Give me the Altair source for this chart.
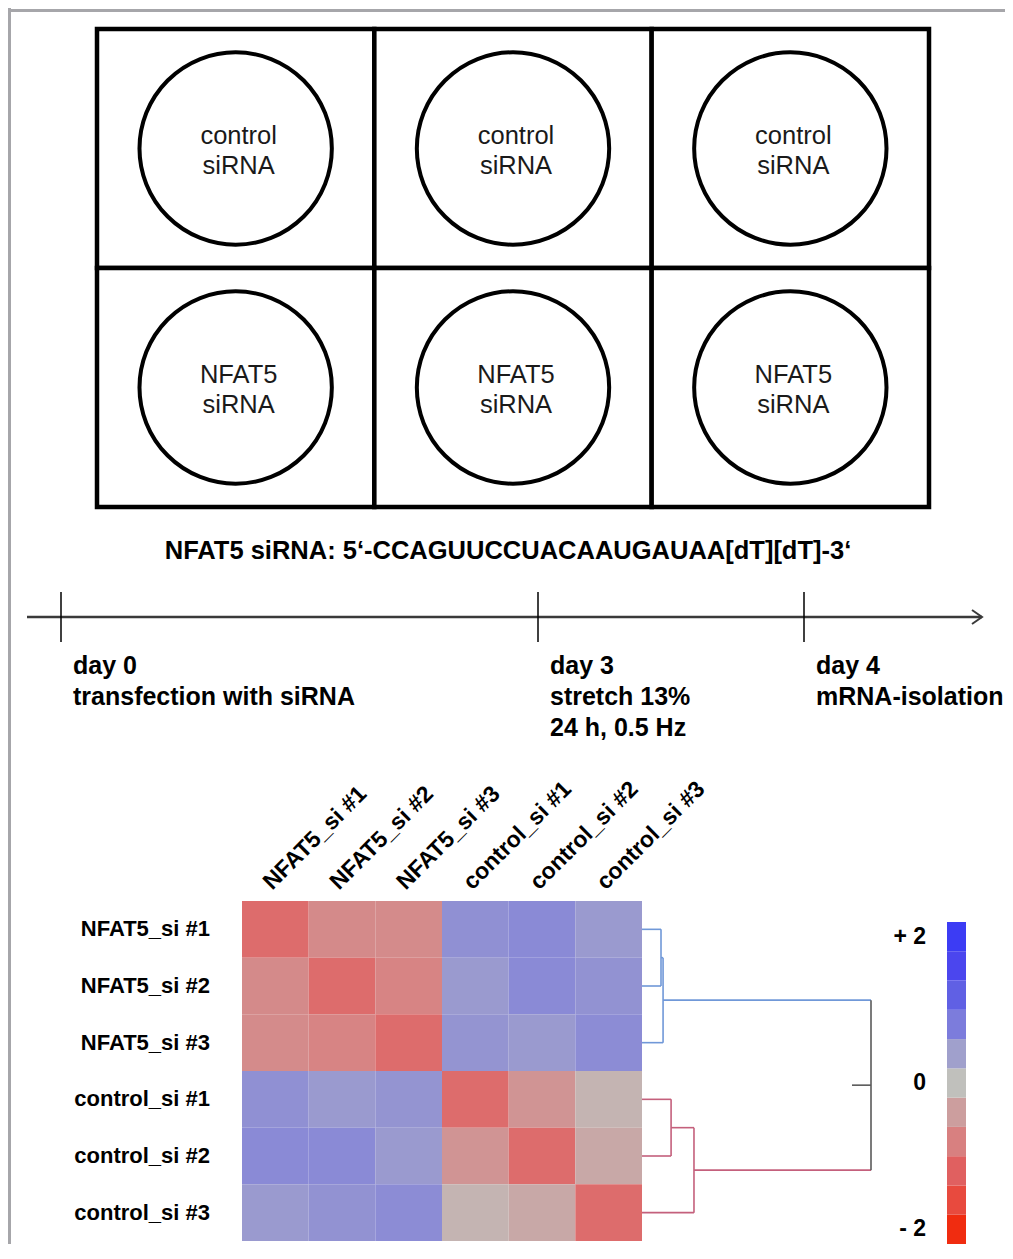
import altair as alt
import pandas as pd

FONT = "Liberation Sans"
BORDER = "#a6a6aa"

# ---------------- data ----------------
# culture plate layout (column, row, treatment)
plate_cols = [0, 1, 2, 0, 1, 2]
plate_rows = [0, 0, 0, 1, 1, 1]
plate_treatment = ["control", "control", "control", "NFAT5", "NFAT5", "NFAT5"]
plate_line2 = ["siRNA", "siRNA", "siRNA", "siRNA", "siRNA", "siRNA"]

sequence_label = "NFAT5 siRNA: 5\u2018-CCAGUUCCUACAAUGAUAA[dT][dT]-3\u2018"

# time line (days)
timeline_days = [0, 3, 4]
timeline_labels = [
    "day 0\ntransfection with siRNA",
    "day 3\nstretch 13%\n24 h, 0.5 Hz",
    "day 4\nmRNA-isolation",
]
timeline_start = -0.2
timeline_end = 4.7

# correlation heatmap
samples = ["NFAT5_si #1", "NFAT5_si #2", "NFAT5_si #3",
           "control_si #1", "control_si #2", "control_si #3"]
corr = [
    [-1.05, -0.67, -0.66, 0.58, 0.64, 0.47],
    [-0.67, -1.05, -0.75, 0.47, 0.64, 0.56],
    [-0.66, -0.75, -1.05, 0.53, 0.47, 0.62],
    [0.58, 0.47, 0.53, -1.05, -0.53, -0.14],
    [0.64, 0.64, 0.47, -0.53, -1.05, -0.28],
    [0.47, 0.56, 0.62, -0.14, -0.28, -1.05],
]

# colour key
legend_steps = [-2.0, -1.6, -1.2, -0.8, -0.4, 0.0, 0.4, 0.8, 1.2, 1.6, 2.0]
legend_colors = ["#f02c10", "#e84a3e", "#e06060", "#d88080", "#cc9e9e", "#c0c0bc",
                 "#a0a0cc", "#7c7cdc", "#6060e4", "#4b46ee", "#3c3cf4"]
legend_half_step = 0.2
legend_tick_values = [2, 0, -2]
legend_tick_labels = ["+ 2", "0", "- 2"]

# dendrogram (hierarchical clustering of the rows)
merge_left = ["NFAT5_si #1", "m1", "control_si #1", "m3", "m2"]
merge_right = ["NFAT5_si #2", "NFAT5_si #3", "control_si #2", "control_si #3", "m4"]
merge_height = [0.083, 0.092, 0.127, 0.227, 1.0]
merge_group = ["blue", "blue", "red", "red", "root"]
root_stub = 0.917
group_colors = {"blue": "#7098d8", "red": "#c4607c", "root": "#5a5a5a"}

# ---------------- helpers ----------------
one = pd.DataFrame({"v": [0]})


def left_border():
    return alt.Chart(one).mark_rect(color=BORDER).encode(
        x=alt.value(0), x2=alt.value(3), y=alt.value(0), y2=alt.value("height"))


def top_border():
    return alt.Chart(one).mark_rect(color=BORDER).encode(
        x=alt.value(0), x2=alt.value("width"), y=alt.value(1), y2=alt.value(4))


W = 997

# ---------------- row A: plate ----------------
plate_df = pd.DataFrame({"col": plate_cols, "row": plate_rows,
                         "treatment": plate_treatment, "line2": plate_line2})
pbase = alt.Chart(plate_df).transform_calculate(
    col2="datum.col + 1", row2="datum.row + 1",
    cx="datum.col + 0.5", cy="datum.row + 0.5")
pxs = alt.Scale(domain=[0, 3], range=[89, 921], nice=False, zero=False)
pys = alt.Scale(domain=[0, 2], range=[21, 499], nice=False, zero=False)

wells = pbase.mark_rect(fill="white", stroke="black", strokeWidth=4.5).encode(
    x=alt.X("col:Q", scale=pxs, axis=None), x2="col2:Q",
    y=alt.Y("row:Q", scale=pys, axis=None), y2="row2:Q")
circles = pbase.mark_point(shape="circle", size=37000, filled=False, stroke="black",
                           strokeWidth=4, opacity=1).encode(
    x=alt.X("cx:Q", scale=pxs, axis=None), y=alt.Y("cy:Q", scale=pys, axis=None))
txt1 = pbase.mark_text(font=FONT, fontSize=25.5, color="#1a1a1a", baseline="alphabetic",
                       dx=3, dy=-5).encode(
    x=alt.X("cx:Q", scale=pxs, axis=None), y=alt.Y("cy:Q", scale=pys, axis=None),
    text="treatment:N")
txt2 = pbase.mark_text(font=FONT, fontSize=25.5, color="#1a1a1a", baseline="alphabetic",
                       dx=3, dy=25).encode(
    x=alt.X("cx:Q", scale=pxs, axis=None), y=alt.Y("cy:Q", scale=pys, axis=None),
    text="line2:N")

row_a = alt.layer(top_border(), left_border(), wells, circles, txt1, txt2).properties(
    width=W, height=499,
    title=alt.TitleParams(sequence_label, orient="bottom", anchor="middle", font=FONT,
                          fontSize=25.5, fontWeight="bold", color="black",
                          baseline="top", offset=30, dx=1.5))

# ---------------- row B: time line ----------------
day_scale = alt.Scale(domain=[timeline_start, 0, 3, 4, timeline_end],
                      range=[19, 53, 530, 796, 974], nice=False, zero=False)
axis_df = pd.DataFrame({"start": [timeline_start], "end": [timeline_end]})
ev_df = pd.DataFrame({"day": timeline_days, "label": timeline_labels})

tl_line = alt.Chart(axis_df).mark_rule(color="#3a3a3a", strokeWidth=2.5).encode(
    x=alt.X("start:Q", scale=day_scale, axis=None), x2="end:Q", y=alt.value(110))
tl_arrow = alt.Chart(axis_df).mark_point(shape="M-1,-0.7L0,0L-1,0.7", size=400, filled=False,
                                         stroke="#3a3a3a", strokeWidth=2, opacity=1).encode(
    x=alt.X("end:Q", scale=day_scale, axis=None), y=alt.value(110))
tl_ticks = alt.Chart(ev_df).mark_rule(color="black", strokeWidth=1.5).encode(
    x=alt.X("day:Q", scale=day_scale, axis=None), y=alt.value(85), y2=alt.value(135))
tl_text = alt.Chart(ev_df).mark_text(align="left", baseline="top", dx=12, font=FONT,
                                     fontSize=25, fontWeight="bold", color="black",
                                     lineBreak="\n", lineHeight=31).encode(
    x=alt.X("day:Q", scale=day_scale, axis=None), y=alt.value(147), text="label:N")
row_b = alt.layer(left_border(), tl_line, tl_arrow, tl_ticks, tl_text).properties(
    width=W, height=394)

# ---------------- row C: heatmap, dendrogram, colour key ----------------
hm = pd.DataFrame([{"row": r, "col": c, "value": corr[i][j]}
                   for i, r in enumerate(samples) for j, c in enumerate(samples)])
color_scale = alt.Scale(domain=legend_steps, range=legend_colors, interpolate="rgb")
hxs = alt.Scale(range=[234, 634], paddingInner=0, paddingOuter=0)
hys = alt.Scale(range=[0, 340], paddingInner=0, paddingOuter=0)

heat_rect = alt.Chart(hm).mark_rect().encode(
    x=alt.X("col:N", sort=samples, scale=hxs,
            axis=alt.Axis(orient="top", title=None, ticks=False, tickSize=0, domain=False,
                          labelAngle=315, labelAlign="left", labelBaseline="alphabetic",
                          labelPadding=10.7, labelOffset=-3, labelFont=FONT,
                          labelFontSize=23, labelFontWeight="bold", labelColor="black",
                          labelLimit=400, labelOverlap=False)),
    y=alt.Y("row:N", sort=samples, scale=hys, axis=None),
    color=alt.Color("value:Q", scale=color_scale, legend=None),
)
row_lab_df = pd.DataFrame({"row": samples})
heat_rowlab = alt.Chart(row_lab_df).mark_text(align="right", baseline="middle", font=FONT,
                                              fontSize=22, fontWeight="bold",
                                              color="black").encode(
    x=alt.value(202), y=alt.Y("row:N", sort=samples, scale=hys, axis=None), text="row:N")
heat = alt.layer(heat_rect, heat_rowlab)

# dendrogram segments from the merge list
node_y = {s: i + 0.5 for i, s in enumerate(samples)}
node_h = {s: 0.0 for s in samples}
node_g = {}
segs = []
last = None
for k, (a, b, h, g) in enumerate(zip(merge_left, merge_right, merge_height, merge_group)):
    name = "m%d" % (k + 1)
    for child in (a, b):
        segs.append({"x": node_h[child], "x2": h, "y": node_y[child], "y2": node_y[child],
                     "group": node_g.get(child, g)})
    segs.append({"x": h, "x2": h, "y": node_y[a], "y2": node_y[b], "group": g})
    node_y[name] = (node_y[a] + node_y[b]) / 2
    node_h[name] = h
    node_g[name] = g
    last = name
segs.append({"x": root_stub, "x2": node_h[last], "y": node_y[last], "y2": node_y[last],
             "group": "root"})
seg_df = pd.DataFrame(segs)

dxs = alt.Scale(domain=[0, 1], range=[634, 863], nice=False, zero=False)
dys = alt.Scale(domain=[0, 6], range=[0, 340], nice=False, zero=False)
dlayers = []
for g, col in group_colors.items():
    dlayers.append(
        alt.Chart(seg_df).transform_filter(alt.datum.group == g).mark_rule(
            color=col, strokeWidth=1.6).encode(
            x=alt.X("x:Q", scale=dxs, axis=None), x2="x2:Q",
            y=alt.Y("y:Q", scale=dys, axis=None), y2="y2:Q"))
dendro = alt.layer(*dlayers)

# colour key
cys = alt.Scale(domain=[-2.2, 2.2], range=[343, 21], nice=False, zero=False)
cb_df = pd.DataFrame({"value": legend_steps})
cb_rect = alt.Chart(cb_df).transform_calculate(
    lo="datum.value - %f" % legend_half_step, hi="datum.value + %f" % legend_half_step
).mark_rect().encode(
    x=alt.value(939), x2=alt.value(958),
    y=alt.Y("lo:Q", scale=cys, axis=None), y2="hi:Q",
    color=alt.Color("value:Q", scale=color_scale, legend=None),
)
cb_lab_df = pd.DataFrame({"value": legend_tick_values, "label": legend_tick_labels})
cb_text = alt.Chart(cb_lab_df).mark_text(align="right", baseline="middle", font=FONT,
                                         fontSize=23, fontWeight="bold",
                                         color="black").encode(
    x=alt.value(918), y=alt.Y("value:Q", scale=cys, axis=None), text="label:N")
cbar = alt.layer(cb_rect, cb_text)

row_c = alt.layer(left_border(), heat, dendro, cbar).resolve_scale(
    x="independent", y="independent").properties(width=W, height=343)

# ---------------- assemble ----------------
chart = alt.vconcat(row_a, row_b, row_c, spacing=0, bounds="flush",
                    padding=0, background="white").configure(
    font=FONT).configure_view(strokeWidth=0, stroke="transparent")

chart.save("out.html", embed_options={"renderer": "svg", "actions": False})
